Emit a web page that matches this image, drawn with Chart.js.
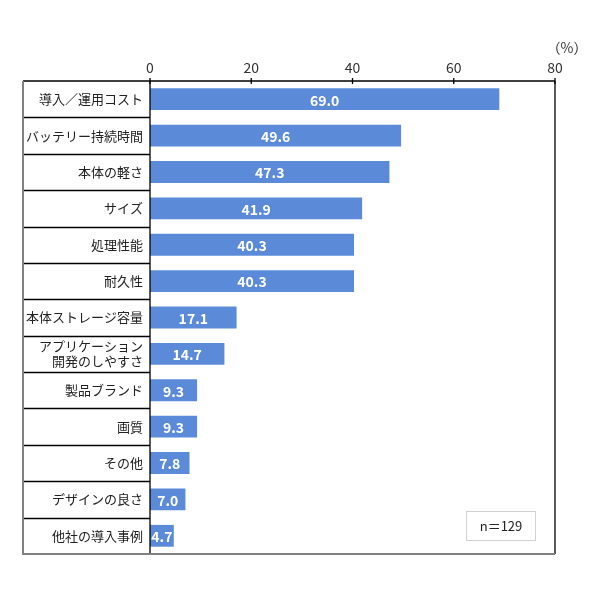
<!DOCTYPE html>
<html><head><meta charset="utf-8">
<script src="https://cdn.jsdelivr.net/npm/chart.js@4"></script>
<style>html,body{margin:0;padding:0;background:#fff}#w{width:590px;height:604px}</style>
</head><body><div id="w"><canvas id="c"></canvas></div>
<script>
const categories = ["導入／運用コスト","バッテリー持続時間","本体の軽さ","サイズ","処理性能","耐久性","本体ストレージ容量",["アプリケーション","開発のしやすさ"],"製品ブランド","画質","その他","デザインの良さ","他社の導入事例"];
const values = [69.0,49.6,47.3,41.9,40.3,40.3,17.1,14.7,9.3,9.3,7.8,7.0,4.7];
const xTicks = [0,20,40,60,80];
const unitLabel = "（%）";
const noteText = "n＝129";
const FONT = "'Noto Sans CJK JP','Noto Sans',sans-serif";

const framePlugin = {
  id:'frame',
  afterDraw(chart){
    const {ctx, chartArea:a, scales:{x,y}} = chart;
    const L = 23;
    ctx.save();
    ctx.strokeStyle = '#000'; ctx.lineWidth = 1.3;
    const n = categories.length;
    const h = (a.bottom - a.top)/n;
    for(let i=1;i<n;i++){
      const yy = Math.round(a.top + i*h)+0.5;
      ctx.beginPath(); ctx.moveTo(L,yy); ctx.lineTo(a.left,yy); ctx.stroke();
    }
    ctx.beginPath(); ctx.moveTo(L,a.top); ctx.lineTo(a.right,a.top); ctx.stroke();
    ctx.beginPath(); ctx.moveTo(a.left,a.top); ctx.lineTo(a.left,a.bottom); ctx.stroke();
    ctx.beginPath(); ctx.moveTo(a.right,a.top); ctx.lineTo(a.right,a.bottom); ctx.stroke();
    ctx.strokeStyle = '#808080'; ctx.lineWidth = 2;
    ctx.beginPath(); ctx.moveTo(L,a.top); ctx.lineTo(L,a.bottom); ctx.lineTo(a.right,a.bottom); ctx.stroke();
    ctx.strokeStyle = '#000'; ctx.lineWidth = 1.3;
    xTicks.forEach(v=>{
      const xx = x.getPixelForValue(v);
      ctx.beginPath(); ctx.moveTo(xx,a.top-3); ctx.lineTo(xx,a.top+3); ctx.stroke();
    });
    ctx.fillStyle = '#333'; ctx.font = '14px '+FONT; ctx.textAlign='center'; ctx.textBaseline='middle';
    ctx.fillText(unitLabel, 567, 48);
    const meta = chart.getDatasetMeta(0);
    ctx.font = 'bold 14px '+FONT; ctx.fillStyle = '#fff';
    meta.data.forEach((bar,i)=>{
      const cx = (bar.base + bar.x)/2;
      ctx.fillText(values[i].toFixed(1), cx, bar.y+1);
    });
    ctx.strokeStyle = '#d0d0d0'; ctx.lineWidth = 1;
    ctx.strokeRect(466.5,511.5,69,29);
    ctx.fillStyle = '#222'; ctx.font = '13px '+FONT;
    ctx.fillText(noteText, 501, 526.5);
    ctx.restore();
  }
};

new Chart(document.getElementById('c'), {
  type:'bar',
  data:{labels:categories, datasets:[{data:values, backgroundColor:'#5b8bd8', borderWidth:0, categoryPercentage:0.6, barPercentage:1}]},
  options:{
    indexAxis:'y', responsive:true, maintainAspectRatio:false, animation:false,
    layout:{padding:{left:23,right:35,top:0,bottom:50}},
    plugins:{legend:{display:false}, tooltip:{enabled:false}},
    scales:{
      x:{position:'top', min:0, max:80, afterBuildTicks(s){s.ticks = xTicks.map(v=>({value:v}));},
        grid:{display:false, drawTicks:false}, border:{display:false},
        ticks:{color:'#333', font:{size:14, family:FONT}, padding:5},
        afterFit(s){s.height = 81;}},
      y:{grid:{display:false, drawTicks:false}, border:{display:false},
        ticks:{color:'#222', font:{size:13, family:FONT, lineHeight:1.15}, padding:7},
        afterFit(s){s.width = 127;}}
    }
  },
  plugins:[framePlugin]
});
</script></body></html>
